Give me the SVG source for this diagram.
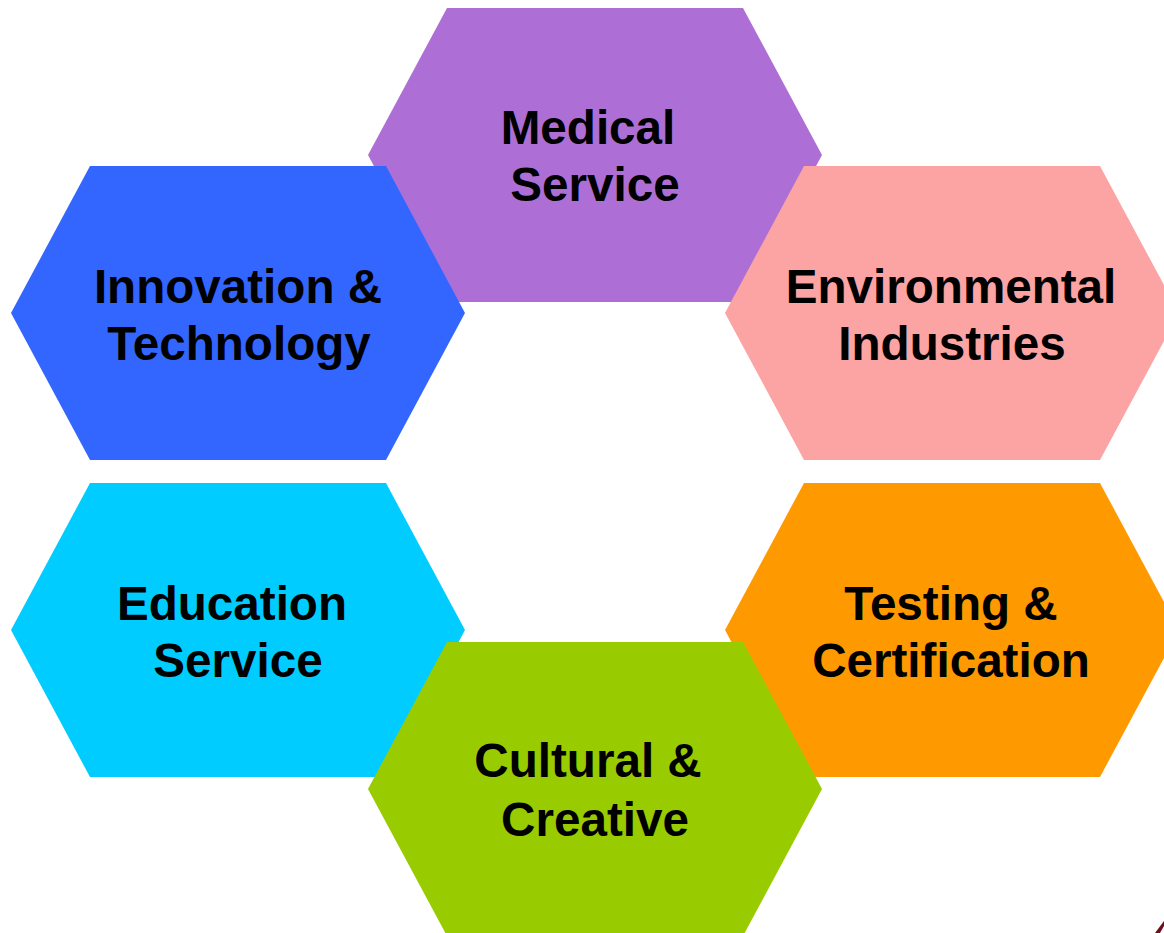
<svg xmlns="http://www.w3.org/2000/svg" width="1164" height="933" viewBox="0 0 1164 933">
<style>
text{font-family:"Liberation Sans",Arial,sans-serif;font-weight:bold;font-size:47.6px;fill:#000;text-anchor:middle}
</style>
<rect width="1164" height="933" fill="#fff"/>
<g id="medical">
<polygon points="368,155 447,8 743,8 822,155 743,302 447,302" fill="#AD6FD6"/>
<text x="588" y="144">Medical</text>
<text x="595" y="201">Service</text>
</g>
<g id="innovation">
<polygon points="11,313 90,166 386,166 465,313 386,460 90,460" fill="#3366FF"/>
<text x="238" y="303">Innovation &amp;</text>
<text x="239" y="360">Technology</text>
</g>
<g id="environmental">
<polygon points="725,313 804,166 1100,166 1179,313 1100,460 804,460" fill="#FCA3A3"/>
<text x="951" y="303">Environmental</text>
<text x="952" y="360">Industries</text>
</g>
<g id="education">
<polygon points="11,630 90,483 386,483 465,630 386,777 90,777" fill="#00CCFF"/>
<text x="232" y="620">Education</text>
<text x="238" y="677">Service</text>
</g>
<g id="testing">
<polygon points="725,630 804,483 1100,483 1179,630 1100,777 804,777" fill="#FF9900"/>
<text x="951" y="620">Testing &amp;</text>
<text x="951" y="677">Certification</text>
</g>
<g id="cultural">
<polygon points="368,789 447,642 743,642 822,789 743,936 447,936" fill="#99CC00"/>
<text x="588" y="777">Cultural &amp;</text>
<text x="595" y="836">Creative</text>
</g>
<g id="connectors"></g>
<polygon points="1155,933 1164,921 1164,926 1160,933" fill="#6a1020"/>
</svg>
